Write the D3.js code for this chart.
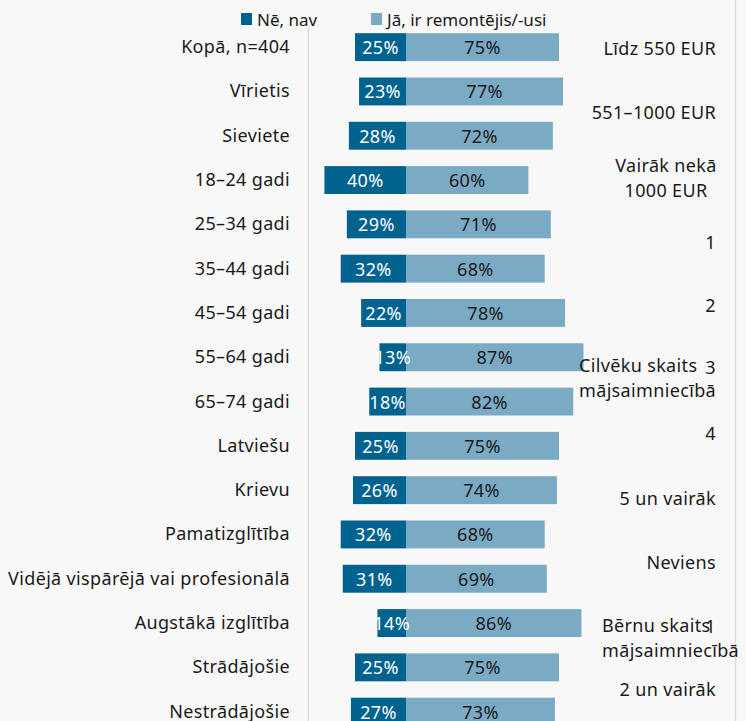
<!DOCTYPE html>
<html>
<head>
<meta charset="utf-8">
<script src="https://d3js.org/d3.v7.min.js"></script>
<style>
  body { margin: 0; background: #f8f8f8; }
  svg { display: block; font-family: "Noto Sans", sans-serif; letter-spacing: 0.35px; }
</style>
</head>
<body>
<div id="vis"></div>
<script>
// categories (rows, top to bottom)
var categories = ["Kopā, n=404", "Vīrietis", "Sieviete", "18–24 gadi", "25–34 gadi",
  "35–44 gadi", "45–54 gadi", "55–64 gadi", "65–74 gadi", "Latviešu", "Krievu",
  "Pamatizglītība", "Vidējā vispārējā vai profesionālā", "Augstākā izglītība",
  "Strādājošie", "Nestrādājošie"];
// "Nē, nav" share, %
var noValues = [25, 23, 28, 40, 29, 32, 22, 13, 18, 25, 26, 32, 31, 14, 25, 27];
// "Jā, ir remontējis/-usi" share, %
var yesValues = [75, 77, 72, 60, 71, 68, 78, 87, 82, 75, 74, 68, 69, 86, 75, 73];
var seriesNames = ["Nē, nav", "Jā, ir remontējis/-usi"];

// stray category labels that show on the right side of the picture
var sideLabels = [
  {lines: ["Līdz 550 EUR"], y: 55, anchor: "end"},
  {lines: ["551–1000 EUR"], y: 119, anchor: "end"},
  {lines: ["Vairāk nekā", "1000 EUR"], y: 172, anchor: "middle"},
  {lines: ["1"], y: 249, anchor: "end"},
  {lines: ["2"], y: 312, anchor: "end"},
  {lines: ["Cilvēku skaits", "mājsaimniecībā"], y: 372, anchor: "start", x: 579},
  {lines: ["3"], y: 374, anchor: "end"},
  {lines: ["4"], y: 440, anchor: "end"},
  {lines: ["5 un vairāk"], y: 505, anchor: "end"},
  {lines: ["Neviens"], y: 569, anchor: "end"},
  {lines: ["Bērnu skaits", "mājsaimniecībā"], y: 632, anchor: "start", x: 602},
  {lines: ["1"], y: 633, anchor: "end"},
  {lines: ["2 un vairāk"], y: 696, anchor: "end"}
];

var width = 746, height = 721;
var darkColor = "#00628f", lightColor = "#7baac5";

var svg = d3.select("#vis")
  .append("svg")
  .attr("width", width)
  .attr("height", height);

svg.append("rect")
  .attr("width", width)
  .attr("height", height)
  .attr("fill", "#f8f8f8");

// frame lines
svg.append("line")
  .attr("x1", 308.5).attr("x2", 308.5)
  .attr("y1", 27).attr("y2", height)
  .attr("stroke", "#dadada").attr("stroke-width", 1.5);
svg.append("line")
  .attr("x1", 735.5).attr("x2", 735.5)
  .attr("y1", 0).attr("y2", height)
  .attr("stroke", "#dadada").attr("stroke-width", 1.5);

var x = d3.scaleLinear()
  .domain([-100, 100])
  .range([406 - 204, 406 + 204]);

var step = 44.3;
var y = d3.scaleBand()
  .domain(categories)
  .range([25, 25 + categories.length * step])
  .paddingInner(0.37)
  .paddingOuter(0.185);

var rows = categories.map(function(c, i) {
  return {cat: c, no: noValues[i], yes: yesValues[i]};
});

// left labels
svg.append("g")
  .selectAll("text")
  .data(rows)
  .join("text")
  .attr("x", 290)
  .attr("y", function(d) { return y(d.cat) + y.bandwidth() / 2 + 6; })
  .attr("text-anchor", "end")
  .attr("font-size", 18)
  .attr("fill", "#1a1a1a")
  .text(function(d) { return d.cat; });

// bars
var bars = svg.append("g");
bars.selectAll("rect.no")
  .data(rows)
  .join("rect")
  .attr("class", "no")
  .attr("x", function(d) { return x(-d.no); })
  .attr("y", function(d) { return y(d.cat); })
  .attr("width", function(d) { return x(0) - x(-d.no); })
  .attr("height", y.bandwidth())
  .attr("fill", darkColor);
bars.selectAll("rect.yes")
  .data(rows)
  .join("rect")
  .attr("class", "yes")
  .attr("x", x(0))
  .attr("y", function(d) { return y(d.cat); })
  .attr("width", function(d) { return x(d.yes) - x(0); })
  .attr("height", y.bandwidth())
  .attr("fill", lightColor);

// value labels
var labels = svg.append("g").attr("font-size", 18).attr("text-anchor", "middle");
labels.selectAll("text.no")
  .data(rows)
  .join("text")
  .attr("class", "no")
  .attr("x", function(d) { return x(-d.no / 2); })
  .attr("y", function(d) { return y(d.cat) + y.bandwidth() / 2 + 7; })
  .attr("fill", "#ffffff")
  .text(function(d) { return d.no + "%"; });
labels.selectAll("text.yes")
  .data(rows)
  .join("text")
  .attr("class", "yes")
  .attr("x", function(d) { return x(d.yes / 2); })
  .attr("y", function(d) { return y(d.cat) + y.bandwidth() / 2 + 7; })
  .attr("fill", "#1a1a1a")
  .text(function(d) { return d.yes + "%"; });

// legend
var legend = svg.append("g")
  .attr("font-size", 17)
  .attr("letter-spacing", "0px")
  .attr("fill", "#1a1a1a");
var legendX = [241, 371];
seriesNames.forEach(function(name, i) {
  legend.append("rect")
    .attr("x", legendX[i]).attr("y", 13)
    .attr("width", 11).attr("height", 12)
    .attr("fill", i === 0 ? darkColor : lightColor);
  legend.append("text")
    .attr("x", legendX[i] + 16).attr("y", 26)
    .text(name);
});

// right side labels
var side = svg.append("g").attr("font-size", 18).attr("fill", "#1a1a1a");
sideLabels.forEach(function(s) {
  var t = side.append("text")
    .attr("text-anchor", s.anchor);
  var lx = s.x != null ? s.x : (s.anchor === "middle" ? 666 : 716);
  s.lines.forEach(function(line, j) {
    t.append("tspan")
      .attr("x", lx)
      .attr("y", s.y + j * 24.5)
      .text(line);
  });
});
</script>
</body>
</html>
